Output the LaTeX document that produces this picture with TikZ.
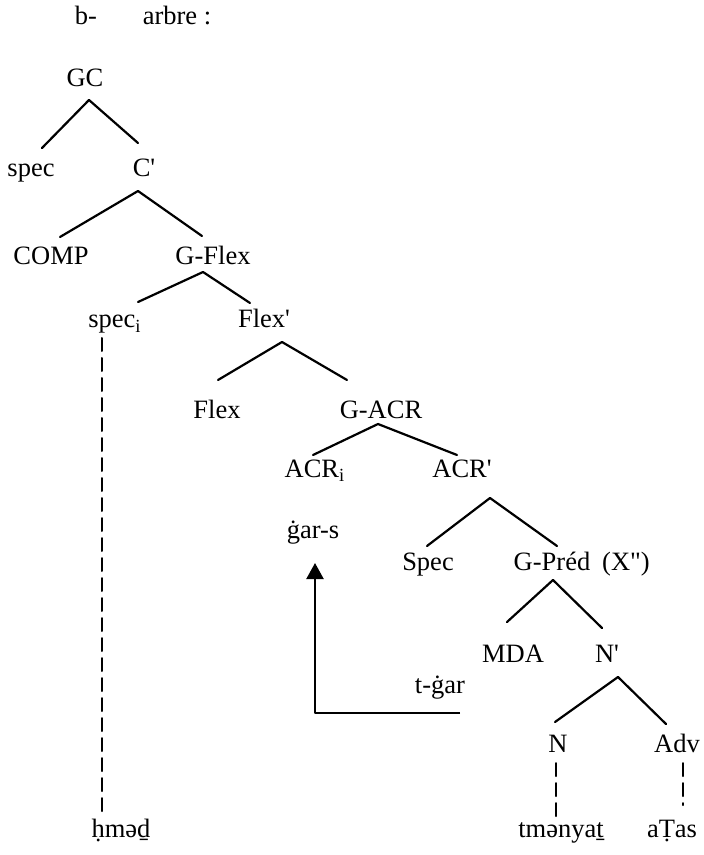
\documentclass[tikz,border=0pt]{standalone}
\usepackage{fontspec}
\setmainfont{Liberation Serif}
\usetikzlibrary{arrows.meta}
\newcommand{\pr}{\textquotesingle}

\begin{document}
\begin{tikzpicture}[x=0.5pt, y=-0.5pt, line cap=round, line join=round,
  lab/.style={anchor=base, inner sep=0pt, font=\fontsize{13.25}{16}\selectfont},
  branch/.style={line width=1.1pt},
  trace/.style={line width=1pt, dash pattern=on 6.5pt off 3.5pt}]

\useasboundingbox (0,0) rectangle (704,855);

% heading
\node[lab] (hb) at (86,25) {b-};
\node[lab] (harbre) at (177,25) {arbre :};

% labels of the tree
\node[lab] (gc) at (85,87) {GC};
\node[lab] (spec) at (31,177) {spec};
\node[lab] (cbar) at (144,177) {C\pr};
\node[lab] (comp) at (51,265) {COMP};
\node[lab] (gflex) at (213,265) {G-Flex};
\node[lab] (speci) at (115,328) {spec\textsubscript{i}};
\node[lab] (flexbar) at (264,328) {Flex\pr};
\node[lab] (flex) at (217,418) {Flex};
\node[lab] (gacr) at (381,418) {G-ACR};
\node[lab] (acri) at (315,477) {ACR\textsubscript{i}};
\node[lab] (acrbar) at (462,477) {ACR\pr};
\node[lab] (gars) at (313,538) {ġar-s};
\node[lab] (specb) at (428,570) {Spec};
\node[lab] (gpred) at (552,570) {G-Préd};
\node[lab] (xbar) at (626,570) {(X\textquotedbl)};
\node[lab] (mda) at (513,662) {MDA};
\node[lab] (nbar) at (607,662) {N\pr};
\node[lab] (tgar) at (440,693) {t-ġar};
\node[lab] (n) at (558,752) {N};
\node[lab] (adv) at (677,752) {Adv};
\node[lab] (hmed) at (121,837) {ḥməḏ};
\node[lab] (tmenyat) at (561,837) {tmənyaṯ};
\node[lab] (atas) at (672,837) {aṬas};

% branches
\draw[branch] ([shift={(11,-29)}]spec.base) -- ([shift={(4,13)}]gc.base) -- ([shift={(-6,-34)}]cbar.base);
\draw[branch] ([shift={(9,-28)}]comp.base) -- ([shift={(-6,14)}]cbar.base) -- ([shift={(-11,-29)}]gflex.base);
\draw[branch] ([shift={(23,-26)}]speci.base) -- ([shift={(-10,7)}]gflex.base) -- ([shift={(-14,-25)}]flexbar.base);
\draw[branch] ([shift={(1,-38)}]flex.base) -- ([shift={(18,14)}]flexbar.base) -- ([shift={(-34,-38)}]gacr.base);
\draw[branch] ([shift={(-2,-22)}]acri.base) -- ([shift={(-3,6)}]gacr.base) -- ([shift={(-5,-22)}]acrbar.base);
\draw[branch] ([shift={(-1,-24)}]specb.base) -- ([shift={(28,21)}]acrbar.base) -- ([shift={(5,-24)}]gpred.base);
\draw[branch] ([shift={(-6,-40)}]mda.base) -- ([shift={(1,10)}]gpred.base) -- ([shift={(-5,-34)}]nbar.base);
\draw[branch] ([shift={(-3,-30)}]n.base) -- ([shift={(11,15)}]nbar.base) -- ([shift={(-11,-28)}]adv.base);

% traces down to the words
\draw[trace] ([shift={(-13,10)}]speci.base) -- ([shift={(-19,-25)}]hmed.base);
\draw[trace] ([shift={(-2,11)}]n.base) -- ([shift={(-5,-20)}]tmenyat.base);
\draw[trace] ([shift={(6,11)}]adv.base) -- ([shift={(11,-32)}]atas.base);

% movement of the verb
\draw[branch, line cap=butt, -{Triangle[length=8pt, width=8.5pt]}] ([shift={(20,20)}]tgar.base) -| ([shift={(2,25)}]gars.base);

\end{tikzpicture}
\end{document}
